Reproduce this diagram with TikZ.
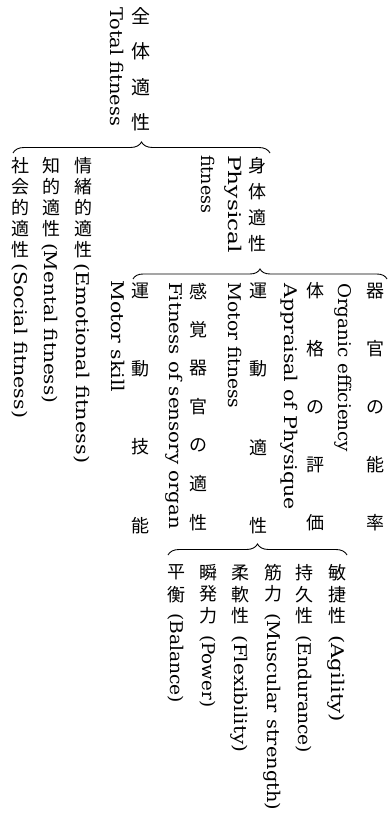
\documentclass[tikz,border=0pt]{standalone}
\usepackage{fontspec}
\setmainfont{DejaVu Serif}
\newfontfamily\jp{Noto Sans CJK JP}
\usetikzlibrary{decorations.pathreplacing}
\newlength\fitlen
\newcommand\fitx[2]{\settowidth\fitlen{#2}\pgfmathsetmacro\fitfac{#1/\fitlen}\scalebox{\fitfac}[1]{#2}}
\newcommand\vst[2]{\vbox{\offinterlineskip\foreach \cc in {#2}{\vbox to #1pt{\vss\hbox to 20pt{\hss\cc\hss}\vss}}}}
\tikzset{
  jpcol/.style={anchor=north, inner sep=0pt, font=\jp\fontsize{18}{18}\selectfont},
  jptop/.style={jpcol, font=\jp\fontsize{19}{19}\selectfont},
  lat/.style={rotate=-90, anchor=west, inner sep=0pt, text height=13pt, text depth=2.5pt,
              font=\fontsize{17.5}{21}\selectfont},
  brc/.style={decorate, decoration={brace, amplitude=#1}, line width=0.9pt},
  brc/.default=10
}
\begin{document}
\begin{tikzpicture}[x=1pt, y=-1pt]
\useasboundingbox (0,0) rectangle (388,818);
% level 1
\node[jptop] (totjp) at (141,-1.75) {\vst{35.5}{全,体,適,性}};
\node[lat] (toten) at (116,7) {\fitx{119}{Total fitness}};
% level 2
\node[jpcol] (phyjp) at (257,151.85) {\vst{26.3}{身,体,適,性}};
\node[lat] (phyen1) at (234,155) {\fitx{98}{Physical}};
\node[lat] (phyen2) at (207,155) {\fitx{58}{fitness}};
\node[jpcol] (emojp) at (83,154.5) {\vst{21}{情,緒,的,適,性}};
\node[lat] (emoen) at (82,263) {\fitx{200}{(Emotional fitness)}};
\node[jpcol] (menjp) at (51,154.5) {\vst{21}{知,的,適,性}};
\node[lat] (menen) at (50,243) {\fitx{160}{(Mental fitness)}};
\node[jpcol] (socjp) at (20,154.5) {\vst{21}{社,会,的,適,性}};
\node[lat] (socen) at (20,263) {\fitx{155}{(Social fitness)}};
% level 3
\node[jpcol] (orgjp) at (375,261.45) {\vst{58.1}{器,官,の,能,率}};
\node[lat] (orgen) at (344,283) {\fitx{169}{Organic efficiency}};
\node[jpcol] (appjp) at (315,261.45) {\vst{58.1}{体,格,の,評,価}};
\node[lat] (appen) at (290,283) {\fitx{227}{Appraisal of Physique}};
\node[jpcol] (motjp) at (258,251.4) {\vst{78.2}{運,動,適,性}};
\node[lat] (moten) at (234,282) {\fitx{126}{Motor fitness}};
\node[jpcol] (senjp) at (198,271.75) {\vst{38.5}{感,覚,器,官,の,適,性}};
\node[lat] (senen) at (175,282) {\fitx{247}{Fitness of sensory organ}};
\node[jpcol] (skijp) at (140,251.4) {\vst{78.2}{運,動,技,能}};
\node[lat] (skien) at (117,280) {\fitx{112}{Motor skill}};
% level 4
\node[jpcol] (agijp) at (337,561.75) {\vst{21.5}{敏,捷,性}};
\node[lat] (agien) at (337,635) {\fitx{87}{(Agility)}};
\node[jpcol] (endjp) at (304,561.75) {\vst{21.5}{持,久,性}};
\node[lat] (enden) at (304,635) {\fitx{118}{(Endurance)}};
\node[jpcol] (musjp) at (273,561.75) {\vst{21.5}{筋,力}};
\node[lat] (musen) at (273,613) {\fitx{197}{(Muscular strength)}};
\node[jpcol] (flejp) at (240,561.75) {\vst{21.5}{柔,軟,性}};
\node[lat] (fleen) at (240,635) {\fitx{117}{(Flexibility)}};
\node[jpcol] (powjp) at (208,561.75) {\vst{21.5}{瞬,発,力}};
\node[lat] (powen) at (208,635) {\fitx{72}{(Power)}};
\node[jpcol] (baljp) at (176,561.75) {\vst{21.5}{平,衡}};
\node[lat] (balen) at (176,613) {\fitx{90}{(Balance)}};
% braces
\coordinate (b1l) at (13,153);
\coordinate (b1r) at (270,153);
\coordinate (b2l) at (133,279);
\coordinate (b2r) at (387,279);
\coordinate (b3l) at (168,555);
\coordinate (b3r) at (347,555);
\draw[brc=11] (b1l) -- (b1r);
\draw[brc=10] (b2l) -- (b2r);
\draw[brc=11] (b3l) -- (b3r);
\end{tikzpicture}
\end{document}
